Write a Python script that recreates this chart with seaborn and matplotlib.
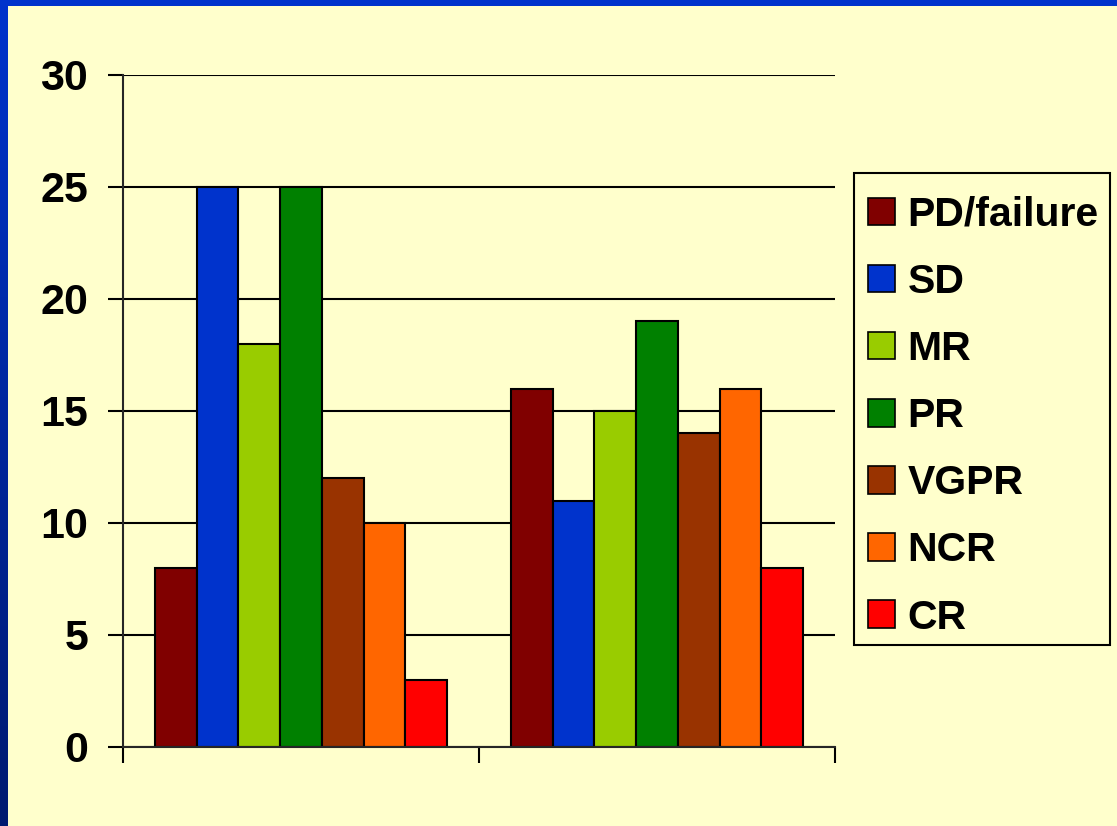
import numpy as np
import pandas as pd
import matplotlib
matplotlib.use("Agg")
from matplotlib import pyplot as plt
from matplotlib.patches import Patch, Rectangle
import seaborn as sb

# data
groups = ["Group 1", "Group 2"]
responses = ["PD/failure", "SD", "MR", "PR", "VGPR", "NCR", "CR"]
group1 = [8, 25, 18, 25, 12, 10, 3]
group2 = [16, 11, 15, 19, 14, 16, 8]
colors = ["#800000", "#0033cc", "#99cc00", "#008000", "#993300", "#ff6600", "#ff0000"]
yticks = [0, 5, 10, 15, 20, 25, 30]

df = pd.DataFrame({
    "group": [groups[0]] * len(responses) + [groups[1]] * len(responses),
    "response": responses * 2,
    "value": group1 + group2,
})

sb.set_style("ticks")
plt.rcParams["font.family"] = ["Liberation Sans", "DejaVu Sans"]
plt.rcParams["font.weight"] = "bold"
plt.rcParams["text.color"] = "black"
plt.rcParams["xtick.color"] = "black"
plt.rcParams["ytick.color"] = "black"

W, H = 1117, 826
bg = "#ffffcc"
fig = plt.figure(figsize=(W / 100, H / 100), dpi=100, facecolor=bg)

# blue slide border (left gradient strip + top strip)
grad = np.linspace(0, 1, 256).reshape(-1, 1)
cmap = matplotlib.colors.LinearSegmentedColormap.from_list("b", ["#0033cc", "#001a70"])
bax = fig.add_axes([0, 0, 8 / W, 1])
bax.imshow(grad, aspect="auto", cmap=cmap)
bax.axis("off")
tax = fig.add_axes([0, 1 - 6 / H, 1, 6 / H])
tax.set_facecolor("#0033cc")
tax.set_xticks([]); tax.set_yticks([])
for s in tax.spines.values():
    s.set_visible(False)

ax = fig.add_axes([123 / W, 79 / H, 712 / W, 672 / H])
ax.set_facecolor(bg)

sb.barplot(data=df, x="group", y="value", hue="response", hue_order=responses,
           palette=colors, width=0.82, edgecolor="black", linewidth=1.5,
           saturation=1, legend=False, ax=ax)

ax.set_xlim(-0.5, 1.5)
ax.set_ylim(0, 30)
ax.set_yticks(yticks)
ax.set_yticklabels([str(t) for t in yticks], fontsize=31, fontweight="bold")
ax.set_xticks([-0.5, 0.5, 1.5])
ax.set_xticklabels([])
ax.tick_params(axis="y", length=11, width=1.5, color="black", pad=14)
ax.tick_params(axis="x", length=11.5, width=1.5, color="black")
ax.set_xlabel("")
ax.set_ylabel("")
ax.yaxis.grid(True, color="black", linewidth=1.5)
ax.set_axisbelow(True)
for side in ["top", "right"]:
    ax.spines[side].set_visible(False)
ax.spines["left"].set_linewidth(1.5)
ax.spines["bottom"].set_linewidth(1.5)

# legend frame drawn separately so it sits where the original box is
fig.patches.append(Rectangle((854 / W, 1 - 645 / H), 256 / W, 472 / H,
                             transform=fig.transFigure, facecolor=bg,
                             edgecolor="black", linewidth=1.5, zorder=0))

handles = [Patch(facecolor=c, edgecolor="black", linewidth=1.2) for c in colors]
leg = fig.legend(handles, responses, loc="upper left",
                 bbox_to_anchor=(868 / W, 1 - 196 / H),
                 prop={"size": 29.5, "weight": "bold"},
                 frameon=False, handlelength=0.65, handleheight=0.65,
                 handletextpad=0.32, labelspacing=0.71, borderpad=0,
                 borderaxespad=0)

plt.savefig("out.png", dpi=100, facecolor=bg)
plt.close()
